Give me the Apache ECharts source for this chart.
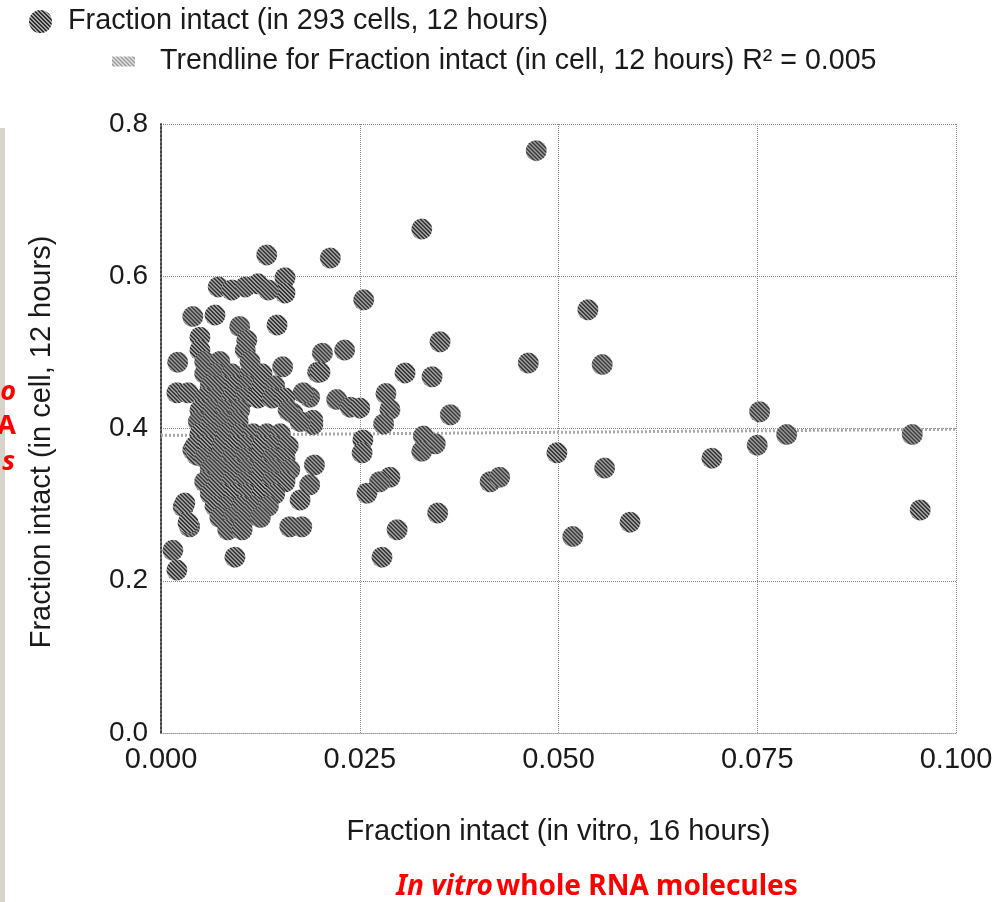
<!DOCTYPE html>
<html><head><meta charset="utf-8">
<script src="https://cdn.jsdelivr.net/npm/echarts@6/dist/echarts.min.js"></script>
<style>html,body{margin:0;padding:0;background:#fff}#c{width:999px;height:902px}</style>
</head><body><div id="c"></div>
<script>
// ---- data ----
const scatterName = 'Fraction intact (in 293 cells, 12 hours)';
const trendName = 'Trendline for Fraction intact (in cell, 12 hours) R\u00B2 = 0.005';
const xTickLabels = ['0.000', '0.025', '0.050', '0.075', '0.100'];
const yTickLabels = ['0.0', '0.2', '0.4', '0.6', '0.8'];

// isolated / outer points
const outerX = [0.0472,0.0328,0.0213,0.0255,0.0351,0.0231,0.0203,0.0197,0.0307,0.0341,0.0462,0.0537,0.0555,0.0364,
  0.0330,0.0345,0.0328,0.0283,0.0288,0.0280,0.0254,0.0253,0.0221,0.0238,0.0250,0.0187,0.0191,
  0.0288,0.0275,0.0259,0.0348,0.0297,0.0278,0.0414,0.0426,0.0498,0.0558,0.0518,0.0590,
  0.0753,0.0750,0.0787,0.0693,0.0945,0.0955,
  0.0133,0.0156,0.0156,0.0072,0.0089,0.0106,0.0122,0.0135,0.0040,0.0068,0.0099,0.0146,0.0049,0.0108,
  0.0021,0.0020,0.0034,0.0153,0.0200,0.0179,0.0166,0.0191,
  0.0040,0.0028,0.0036,0.0015,0.0020,0.0093,0.0162,0.0177,0.0193,0.0187,0.0175,0.0045,0.0030,0.0034];
const outerY = [0.765,0.662,0.624,0.569,0.514,0.503,0.499,0.474,0.473,0.468,0.486,0.556,0.484,0.418,
  0.390,0.380,0.370,0.446,0.425,0.406,0.385,0.368,0.438,0.428,0.427,0.441,0.405,
  0.336,0.330,0.315,0.289,0.267,0.231,0.330,0.336,0.368,0.348,0.258,0.277,
  0.422,0.378,0.392,0.361,0.392,0.293,
  0.628,0.598,0.578,0.586,0.582,0.586,0.590,0.582,0.547,0.549,0.534,0.536,0.520,0.516,
  0.487,0.447,0.447,0.481,0.474,0.447,0.420,0.411,
  0.372,0.297,0.271,0.240,0.214,0.231,0.271,0.271,0.352,0.326,0.306,0.365,0.302,0.276];

// dense cluster near the origin
const clusterX = [0.0049,0.0106,
  0.0055,0.0074,0.0112,
  0.0055,0.0071,0.0089,0.0112,0.0127,
  0.0062,0.0077,0.0093,0.0109,0.0127,0.0143,
  0.0055,0.0071,0.0089,0.0106,0.0122,0.0140,0.0156,
  0.0049,0.0065,0.0082,0.0099,0.0160,
  0.0047,0.0064,0.0080,0.0097,0.0175,
  0.0049,0.0065,0.0082,0.0099,0.0116,0.0133,0.0150,
  0.0043,0.0059,0.0077,0.0093,0.0109,0.0127,0.0143,0.0160,
  0.0055,0.0072,0.0089,0.0106,0.0122,0.0140,0.0156,
  0.0062,0.0077,0.0093,0.0109,0.0127,0.0143,0.0162,
  0.0055,0.0072,0.0089,0.0106,0.0122,0.0140,0.0156,
  0.0062,0.0077,0.0093,0.0109,0.0127,0.0143,
  0.0068,0.0084,0.0102,0.0118,0.0135,
  0.0074,0.0091,0.0107,0.0125,
  0.0084,0.0102];
const clusterY = [0.503,0.503,
  0.488,0.488,0.488,
  0.472,0.472,0.472,0.472,0.472,
  0.456,0.456,0.456,0.456,0.456,0.456,
  0.440,0.440,0.440,0.440,0.440,0.440,0.440,
  0.424,0.424,0.424,0.424,0.424,
  0.409,0.409,0.409,0.409,0.409,
  0.393,0.393,0.393,0.393,0.393,0.393,0.393,
  0.377,0.377,0.377,0.377,0.377,0.377,0.377,0.377,
  0.361,0.361,0.361,0.361,0.361,0.361,0.361,
  0.346,0.346,0.346,0.346,0.346,0.346,0.346,
  0.330,0.330,0.330,0.330,0.330,0.330,0.330,
  0.314,0.314,0.314,0.314,0.314,0.314,
  0.298,0.298,0.298,0.298,0.298,
  0.283,0.283,0.283,0.283,
  0.267,0.267];

const trendX = [0, 0.1];
const trendY = [0.391, 0.399];

// ---- patterns ----
const DOT = 21;
function stripeCanvas(dark, light) {
  const c = document.createElement('canvas');
  c.width = 4; c.height = 4;
  const ctx = c.getContext('2d');
  ctx.fillStyle = light; ctx.fillRect(0, 0, 4, 4);
  ctx.fillStyle = dark;
  for (let y = 0; y < 4; y++) for (let x = 0; x < 4; x++) {
    const d = ((x - y) % 4 + 4) % 4;
    if (d === 0 || d === 1) ctx.fillRect(x, y, 1, 1);
  }
  return c;
}
const dotCanvas = stripeCanvas('#2e2e2e', '#a8a8a8');
const trendCanvas = stripeCanvas('#9a9a9a', '#e4e4e4');
// symbols are drawn in a 2x2 unit box scaled by size/2, so the pattern is scaled back
const dotFillSeries = { image: dotCanvas, repeat: 'repeat', scaleX: 2 / DOT, scaleY: 2 / DOT };
const dotFillLegend = { image: dotCanvas, repeat: 'repeat' };
const trendFill = { image: trendCanvas, repeat: 'repeat' };

const pts = [];
outerX.forEach((v, i) => pts.push([v, outerY[i]]));
clusterX.forEach((v, i) => pts.push([v, clusterY[i]]));
const trendPts = trendX.map((v, i) => [v, trendY[i]]);

const FONT = 'Liberation Sans';
const FS = 28;
const chart = echarts.init(document.getElementById('c'), null, { renderer: 'canvas' });
chart.setOption({
  backgroundColor: '#ffffff',
  animation: false,
  textStyle: { fontFamily: FONT },
  grid: { left: 161, top: 124, width: 795, height: 609, containLabel: false },
  legend: [
    { left: 24, top: 2, itemWidth: 23, itemHeight: 23, itemGap: 0, orient: 'vertical',
      data: [{ name: scatterName, icon: 'circle', itemStyle: { color: dotFillLegend } }],
      textStyle: { fontFamily: FONT, fontSize: 28.8, color: '#1a1a1a', padding: [0, 0, 0, 11] } },
    { left: 107, top: 42, itemWidth: 23, itemHeight: 10, itemGap: 0, orient: 'vertical',
      data: [{ name: trendName, icon: 'rect', itemStyle: { color: trendFill } }],
      textStyle: { fontFamily: FONT, fontSize: 28.6, color: '#1a1a1a', padding: [0, 0, 0, 20] } }
  ],
  xAxis: {
    type: 'value', min: 0, max: 0.1, interval: 0.025,
    axisLine: { show: true, lineStyle: { color: '#999', type: 'dotted', width: 1 } },
    axisTick: { show: false },
    axisLabel: { margin: 12, fontSize: FS + 1, color: '#1a1a1a', fontFamily: FONT,
      formatter: (v, i) => xTickLabels[i] },
    splitLine: { show: true, lineStyle: { color: '#888', type: 'dotted', width: 1 } },
    name: 'Fraction intact (in vitro, 16 hours)', nameLocation: 'middle', nameGap: 84,
    nameTextStyle: { fontSize: FS + 1, color: '#1a1a1a', fontFamily: FONT }
  },
  yAxis: {
    type: 'value', min: 0, max: 0.8, interval: 0.2,
    axisLine: { show: true, lineStyle: { color: '#444', type: 'dotted', width: 2 } },
    axisTick: { show: false },
    axisLabel: { margin: 13, fontSize: FS, color: '#1a1a1a', fontFamily: FONT,
      formatter: (v, i) => yTickLabels[i] },
    splitLine: { show: true, lineStyle: { color: '#888', type: 'dotted', width: 1 } }
  },
  series: [
    { name: trendName, type: 'line', data: trendPts, symbol: 'none', z: 1,
      lineStyle: { color: '#a8a8a8', width: 3, type: [2, 2] }, itemStyle: { color: trendFill } },
    { name: scatterName, type: 'scatter', data: pts, symbol: 'circle', symbolSize: DOT, z: 2,
      itemStyle: { color: dotFillSeries, opacity: 1 } }
  ],
  graphic: [
    { type: 'rect', left: 0, top: 128, shape: { width: 5, height: 774 }, style: { fill: '#d6d4c8' }, z: 0 },
    { type: 'text', x: 42, y: 442, rotation: Math.PI / 2, z: 5,
      style: { text: 'Fraction intact (in cell, 12 hours)', align: 'center', verticalAlign: 'middle',
        font: (FS + 1) + 'px "Liberation Sans"', fill: '#1a1a1a' } },
    { type: 'text', x: 16, y: 392, z: 5,
      style: { text: 'o', align: 'right', verticalAlign: 'middle',
        font: 'italic bold 27px "Noto Sans"', fill: '#ff0000' } },
    { type: 'text', x: 16, y: 426, z: 5,
      style: { text: 'A', align: 'right', verticalAlign: 'middle',
        font: 'bold 27px "Noto Sans"', fill: '#ff0000' } },
    { type: 'text', x: 15, y: 462, z: 5,
      style: { text: 's', align: 'right', verticalAlign: 'middle',
        font: 'italic bold 27px "Noto Sans"', fill: '#ff0000' } },
    { type: 'text', x: 597, y: 887, z: 5,
      style: { text: '{i|In vitro} {b|whole RNA molecules}', align: 'center', verticalAlign: 'middle',
        rich: { i: { fontFamily: 'Noto Sans', fontWeight: 'bold', fontStyle: 'italic', fontSize: 28, fill: '#ff0000' },
                b: { fontFamily: 'Noto Sans', fontWeight: 'bold', fontSize: 28, fill: '#ff0000' } } } }
  ]
});
</script></body></html>
